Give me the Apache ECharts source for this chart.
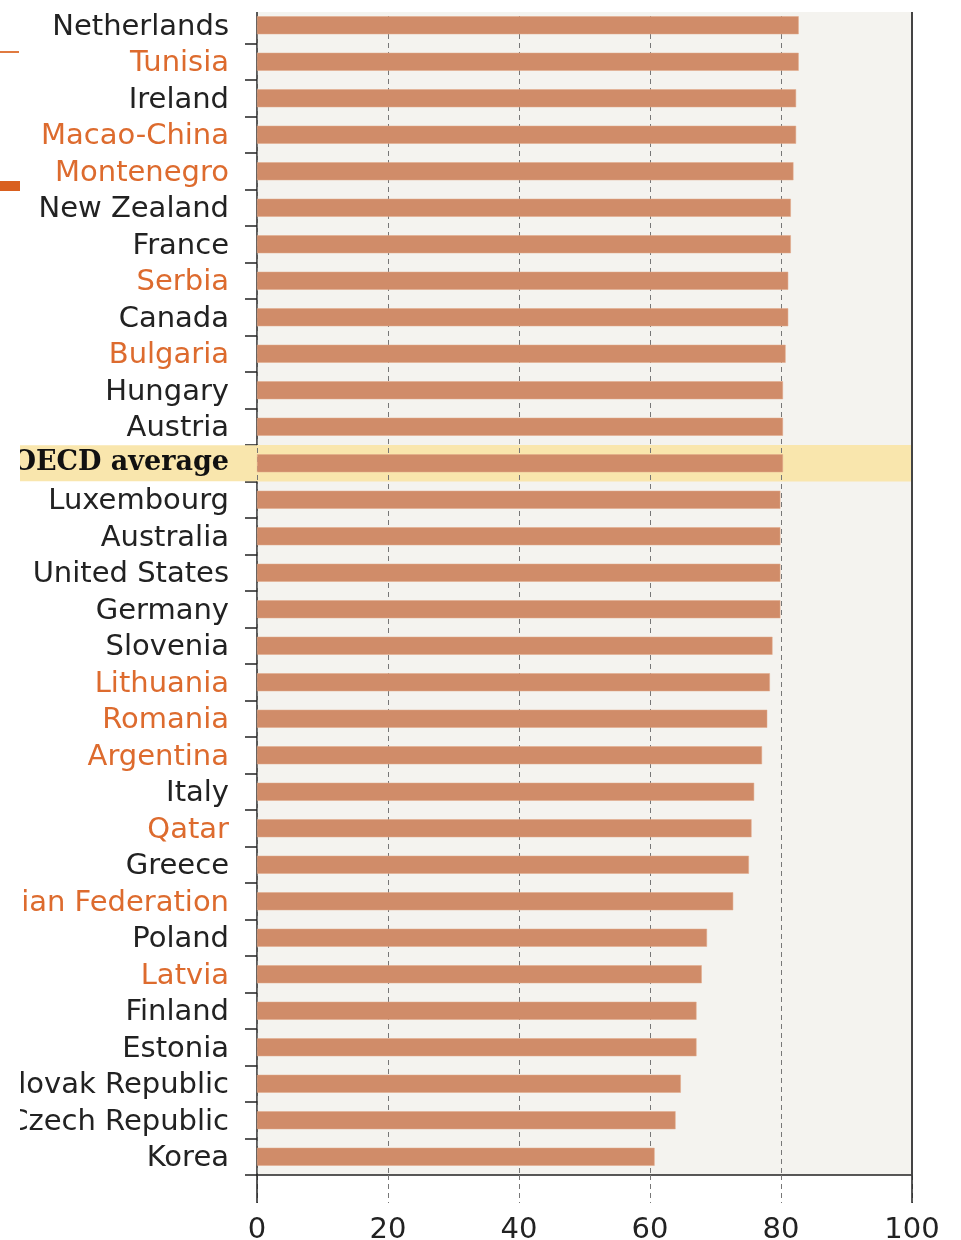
<!DOCTYPE html>
<html>
<head>
<meta charset="utf-8">
<script src="https://cdn.jsdelivr.net/npm/echarts@6/dist/echarts.min.js"></script>
<style>
  html, body { margin: 0; padding: 0; background: #fff; }
  #container { width: 961px; height: 1240px; }
</style>
</head>
<body>
<div id="container"></div>
<script>
// Dados do gráfico
var categories = ['Netherlands', 'Tunisia', 'Ireland', 'Macao-China', 'Montenegro', 'New Zealand', 'France', 'Serbia',
  'Canada', 'Bulgaria', 'Hungary', 'Austria', 'OECD average', 'Luxembourg', 'Australia', 'United States', 'Germany',
  'Slovenia', 'Lithuania', 'Romania', 'Argentina', 'Italy', 'Qatar', 'Greece', 'Russian Federation', 'Poland',
  'Latvia', 'Finland', 'Estonia', 'Slovak Republic', 'Czech Republic', 'Korea'];
var values = [82.7, 82.7, 82.3, 82.3, 81.9, 81.5, 81.5, 81.1, 81.1, 80.7, 80.3, 80.3, 80.3, 79.9, 79.9, 79.9, 79.9,
  78.7, 78.3, 77.9, 77.1, 75.9, 75.5, 75.1, 72.7, 68.7, 67.9, 67.1, 67.1, 64.7, 63.9, 60.7];
var partners = ['Tunisia', 'Macao-China', 'Montenegro', 'Serbia', 'Bulgaria', 'Lithuania', 'Romania', 'Argentina',
  'Qatar', 'Russian Federation', 'Latvia'];
var highlight = 'OECD average';
var xTicks = [0, 20, 40, 60, 80, 100];

// Faixa amarela só na linha da média OCDE
var bandValues = categories.map(function (c) { return c === highlight ? xTicks[xTicks.length - 1] : null; });

var dom = document.getElementById('container');
var myChart = echarts.init(dom, null, { renderer: 'canvas' });

var option = {
  animation: false,
  grid: {
    left: 257, right: 49, top: 7, bottom: 65,
    containLabel: false, outerBoundsMode: 'none',
    show: true, backgroundColor: '#f4f3ef', borderWidth: 0
  },
  xAxis: [
    {
      type: 'value', min: 0, max: 100, interval: 20, z: 1,
      axisLine: { show: true, onZero: false, lineStyle: { color: '#222', width: 1.5 } },
      axisTick: { show: true, length: 28, lineStyle: { color: '#777', type: [5, 4] } },
      splitLine: { show: true, lineStyle: { color: '#777', type: [5, 4] } },
      axisLabel: { margin: 41, fontFamily: 'DejaVu Sans', fontSize: 29, color: '#222' }
    },
    {
      // traços sólidos em 0 e 100
      type: 'value', min: 0, max: 100, interval: 100, position: 'bottom', z: 2,
      axisLine: { show: false },
      axisTick: { show: true, length: 28, lineStyle: { color: '#222', width: 1.5 } },
      splitLine: { show: false },
      axisLabel: { show: false }
    }
  ],
  yAxis: [
    {
      type: 'category', data: categories, inverse: true,
      axisLine: { show: true, onZero: false, lineStyle: { color: '#222', width: 1.5 } },
      axisTick: { show: true, length: 12, lineStyle: { color: '#222', width: 1.5 } },
      axisLabel: {
        margin: 0, interval: 0,
        formatter: function (v) {
          if (v === highlight) return '{h|' + v + '}';
          if (partners.indexOf(v) >= 0) return '{p|' + v + '}';
          return '{n|' + v + '}';
        },
        rich: {
          n: { fontFamily: 'DejaVu Sans', fontSize: 29, color: '#222', padding: [4, 28, 0, 0] },
          p: { fontFamily: 'DejaVu Sans', fontSize: 29, color: '#dd6b2e', padding: [4, 28, 0, 0] },
          h: {
            fontFamily: 'DejaVu Serif', fontWeight: 'bold', fontSize: 27, color: '#111',
            backgroundColor: '#f9e6ad', height: 36, lineHeight: 36, padding: [0, 28, 0, 80]
          }
        }
      }
    },
    {
      type: 'category', data: categories, inverse: true, position: 'right', z: 3,
      axisLine: { show: true, onZero: false, lineStyle: { color: '#444', width: 2 } },
      axisTick: { show: false },
      axisLabel: { show: false }
    }
  ],
  series: [
    {
      name: 'band', type: 'bar', yAxisIndex: 1, z: 0,
      data: bandValues, barWidth: '100%', silent: true,
      itemStyle: { color: '#f9e6ad' }
    },
    {
      name: 'value', type: 'bar', yAxisIndex: 0, z: 2,
      data: values, barWidth: 18,
      itemStyle: { color: '#d08c69', borderColor: '#e2a989', borderWidth: 0.5 }
    }
  ],
  graphic: [
    // recorte à esquerda e no topo, como na figura original
    { type: 'rect', left: 0, top: 0, shape: { width: 20, height: 1180 }, style: { fill: '#fff' }, z: 100 },
    { type: 'rect', left: 238, top: 0, shape: { width: 723, height: 12 }, style: { fill: '#fff' }, z: 100 },
    // fragmentos da legenda
    { type: 'rect', left: 0, top: 51, shape: { width: 19, height: 2 }, style: { fill: '#e07a40' }, z: 101 },
    { type: 'rect', left: 0, top: 181, shape: { width: 20, height: 10 }, style: { fill: '#d9601f' }, z: 101 }
  ]
};

myChart.setOption(option);

window.addEventListener('resize', function () {
  myChart.resize();
});
</script>
</body>
</html>
